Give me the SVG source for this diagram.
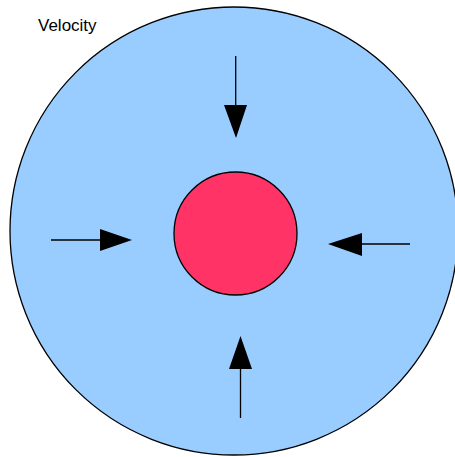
<svg xmlns="http://www.w3.org/2000/svg" width="455" height="457" viewBox="0 0 455 457">
<style>
.c{stroke:#000;stroke-width:1.3}
.ln{stroke:#000;stroke-width:1.3;fill:none}
.hd{fill:#000}
.t{font-family:"Liberation Sans",Arial,sans-serif;font-size:17px;fill:#000}
</style>
<rect width="455" height="457" fill="#fff"/>
<g id="outer"><circle class="c" cx="234" cy="231" r="224" fill="#99ccff"/></g>
<g id="inner"><circle class="c" cx="235.5" cy="233.5" r="61.5" fill="#ff3366"/></g>
<g id="label"><text class="t" x="38" y="31">Velocity</text></g>
<g id="connectors">
<line class="ln" x1="51" y1="240" x2="100" y2="240"/>
<polygon class="hd" points="100,229 132,240 100,251"/>
<line class="ln" x1="410" y1="244" x2="362" y2="244"/>
<polygon class="hd" points="362,233 328,244 362,256"/>
<line class="ln" x1="235.7" y1="56" x2="235.7" y2="105"/>
<polygon class="hd" points="224,105 247,105 236,138"/>
<line class="ln" x1="240.5" y1="418" x2="240.5" y2="369"/>
<polygon class="hd" points="229,369 252,369 240.5,336"/>
</g>
</svg>
